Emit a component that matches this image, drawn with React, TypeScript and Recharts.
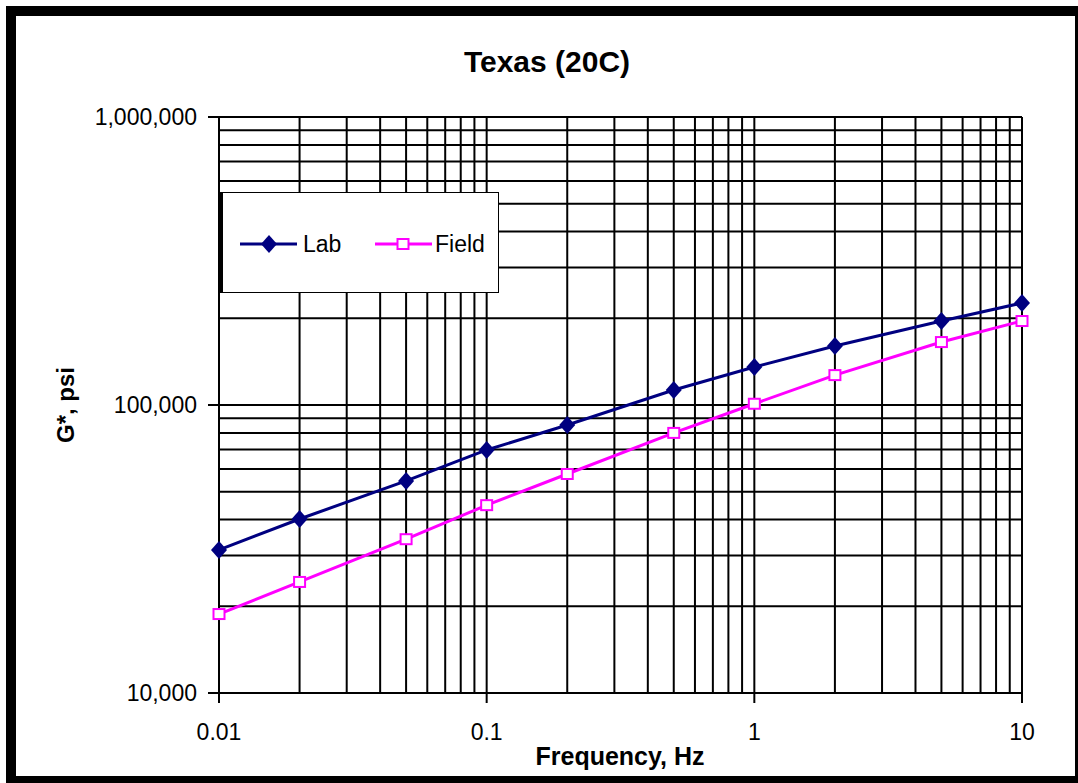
import React from 'react';
import { LineChart, Line, XAxis, YAxis, CartesianGrid } from 'recharts';

// frequency (Hz) of each test point
const frequencies = [0.01, 0.02, 0.05, 0.1, 0.2, 0.5, 1, 2, 5, 10];
// G*, psi
const labValues = [31400, 40200, 54500, 69800, 85200, 112700, 135500, 160200, 195700, 226000];
const fieldValues = [18800, 24300, 34200, 44900, 57600, 80000, 101000, 127000, 165400, 195700];

const xTicks = [
  0.01, 0.02, 0.03, 0.04, 0.05, 0.06, 0.07, 0.08, 0.09,
  0.1, 0.2, 0.3, 0.4, 0.5, 0.6, 0.7, 0.8, 0.9,
  1, 2, 3, 4, 5, 6, 7, 8, 9, 10,
];
const xTickLabels: Record<string, string> = { '0.01': '0.01', '0.1': '0.1', '1': '1', '10': '10' };

const yTicks = [
  10000, 20000, 30000, 40000, 50000, 60000, 70000, 80000, 90000,
  100000, 200000, 300000, 400000, 500000, 600000, 700000, 800000, 900000,
  1000000,
];
const yTickLabels: Record<string, string> = {
  '10000': '10,000',
  '100000': '100,000',
  '1000000': '1,000,000',
};

const data = frequencies.map((f, i) => ({ freq: f, lab: labValues[i], field: fieldValues[i] }));

const FONT = '"Liberation Sans", Arial, sans-serif';
const LAB_COLOR = '#000080';
const FIELD_COLOR = '#FF00FF';

const YTick = (props: any) => {
  const { x, y, payload } = props;
  const label = yTickLabels[String(payload.value)];
  if (!label) return <g />;
  return (
    <g>
      <line x1={x - 11} x2={x} y1={y} y2={y} stroke="#000" strokeWidth={2} />
      <text x={x - 22} y={y + 8} textAnchor="end" fontFamily={FONT} fontSize={23} fill="#000">
        {label}
      </text>
    </g>
  );
};

const XTick = (props: any) => {
  const { x, y, payload } = props;
  const label = xTickLabels[String(payload.value)];
  if (!label) return <g />;
  return (
    <g>
      <line x1={x} x2={x} y1={y} y2={y + 10} stroke="#000" strokeWidth={2} />
      <text x={x} y={y + 47} textAnchor="middle" fontFamily={FONT} fontSize={23} fill="#000">
        {label}
      </text>
    </g>
  );
};

const Diamond = (props: any) => {
  const { cx, cy, index } = props;
  return (
    <path
      key={`d-${index}`}
      d={`M${cx},${cy - 9} L${cx + 8},${cy} L${cx},${cy + 9} L${cx - 8},${cy} Z`}
      fill={LAB_COLOR}
    />
  );
};

const Square = (props: any) => {
  const { cx, cy, index } = props;
  return (
    <rect
      key={`s-${index}`}
      x={cx - 5.5}
      y={cy - 5}
      width={11}
      height={10}
      fill="#fff"
      stroke={FIELD_COLOR}
      strokeWidth={2}
    />
  );
};

export default function App() {
  return (
    <div
      style={{
        position: 'absolute',
        left: 0,
        top: 0,
        width: 1078,
        height: 783,
        overflow: 'hidden',
        background: '#fff',
      }}
    >
      <div style={{ position: 'absolute', left: 0, top: 0 }}>
        <LineChart width={1078} height={783} data={data} margin={{ top: 117, right: 56, bottom: 0, left: 0 }}>
          <CartesianGrid stroke="#000" strokeWidth={2} syncWithTicks />
          <XAxis
            dataKey="freq"
            type="number"
            scale="log"
            domain={[0.01, 10]}
            ticks={xTicks}
            interval={0}
            height={90}
            tickSize={0}
            tickMargin={0}
            tickLine={false}
            axisLine={{ stroke: '#000', strokeWidth: 2 }}
            tick={<XTick />}
          />
          <YAxis
            type="number"
            scale="log"
            domain={[10000, 1000000]}
            ticks={yTicks}
            interval={0}
            width={219}
            tickSize={0}
            tickMargin={0}
            tickLine={false}
            axisLine={{ stroke: '#000', strokeWidth: 2 }}
            tick={<YTick />}
          />
          <Line
            dataKey="lab"
            name="Lab"
            stroke={LAB_COLOR}
            strokeWidth={3}
            dot={Diamond}
            activeDot={false}
            isAnimationActive={false}
          />
          <Line
            dataKey="field"
            name="Field"
            stroke={FIELD_COLOR}
            strokeWidth={3}
            dot={Square}
            activeDot={false}
            isAnimationActive={false}
          />
        </LineChart>
      </div>

      {/* legend */}
      <div
        style={{
          position: 'absolute',
          left: 220,
          top: 192,
          width: 279,
          height: 101,
          boxSizing: 'border-box',
          background: '#fff',
          border: '1px solid #000',
          borderLeft: '3px solid #000',
        }}
      >
        <svg width={276} height={99} style={{ position: 'absolute', left: 0, top: 0 }}>
          <line x1={17} x2={74} y1={51} y2={51} stroke={LAB_COLOR} strokeWidth={3} />
          <path d="M46,42 L54,51 L46,60 L38,51 Z" fill={LAB_COLOR} />
          <text x={80} y={59} fontFamily={FONT} fontSize={23} fill="#000">Lab</text>
          <line x1={152} x2={209} y1={51} y2={51} stroke={FIELD_COLOR} strokeWidth={3} />
          <rect x={174.5} y={46} width={11} height={10} fill="#fff" stroke={FIELD_COLOR} strokeWidth={2} />
          <text x={212} y={59} fontFamily={FONT} fontSize={23} fill="#000">Field</text>
        </svg>
      </div>

      {/* title and axis titles */}
      <svg width={1078} height={783} style={{ position: 'absolute', left: 0, top: 0, pointerEvents: 'none' }}>
        <text x={547} y={72} textAnchor="middle" fontFamily={FONT} fontSize={30} fontWeight="bold" fill="#000">
          Texas (20C)
        </text>
        <text x={620} y={765} textAnchor="middle" fontFamily={FONT} fontSize={25} fontWeight="bold" fill="#000">
          Frequency, Hz
        </text>
        <text
          x={74}
          y={405}
          textAnchor="middle"
          transform="rotate(-90 74 405)"
          fontFamily={FONT}
          fontSize={24}
          fontWeight="bold"
          fill="#000"
        >
          G*, psi
        </text>
      </svg>

      {/* frame */}
      <div
        style={{
          position: 'absolute',
          left: 6,
          top: 6,
          width: 1079,
          height: 780,
          boxSizing: 'border-box',
          border: '10px solid #000',
          pointerEvents: 'none',
        }}
      />
    </div>
  );
}
